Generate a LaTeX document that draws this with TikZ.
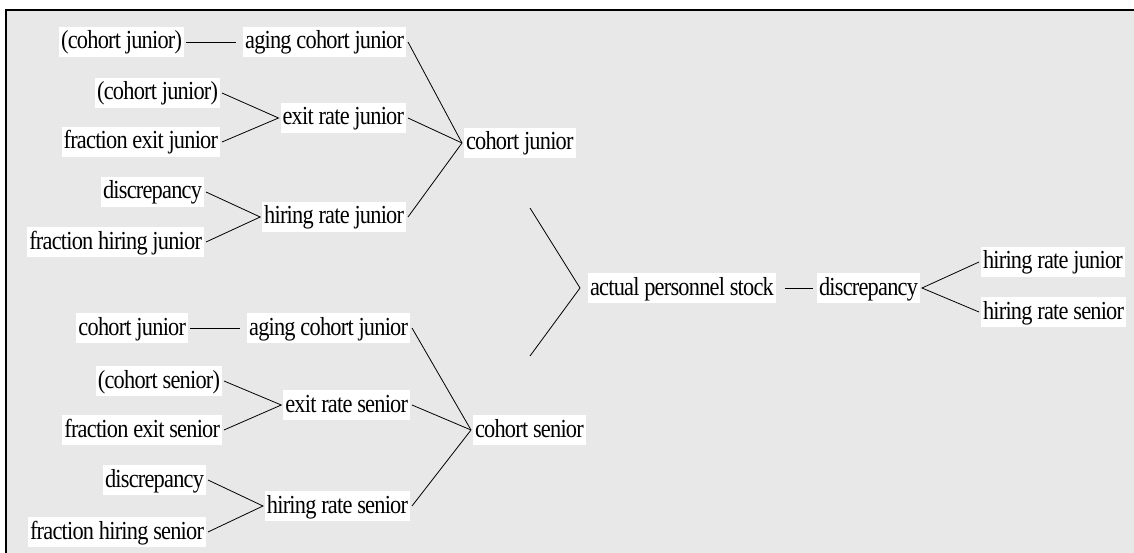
\documentclass[tikz,border=0pt]{standalone}
\usepackage{fontspec}
\setmainfont{Liberation Serif}[FakeStretch=0.86, LetterSpace=-3]
\usepackage{tikz}
\usetikzlibrary{positioning, calc}
\definecolor{panelgray}{RGB}{232,232,232}
\tikzset{
    frame/.style={line width=2pt, black},
    var/.style={fill=white, inner xsep=2pt, inner ysep=3pt, text height=19pt, text depth=5pt, outer sep=2pt},
    link/.style={line width=0.8pt},
    every node/.style={font=\fontsize{26}{30}\selectfont}
}

\begin{document}
\begin{tikzpicture}[x=1pt, y=-1pt]
    % Panel
    \useasboundingbox (0,0) rectangle (1134,553);
    \fill[panelgray] (5,9) rectangle (1134,553);
    \draw[frame] (6,553) -- (6,10) -- (1134,10);

    % Cohort junior tree
    \node[var, anchor=east] (cjA) at (186,42) {(cohort junior)};
    \node[var, anchor=east] (acjA) at (408,42) {aging cohort junior};
    \node[var, anchor=east] (cjB) at (222,93) {(cohort junior)};
    \node[var, anchor=east] (fej) at (222,142) {fraction exit junior};
    \node[var, anchor=east] (erj) at (408,118) {exit rate junior};
    \node[var, anchor=east] (dscA) at (206,192) {discrepancy};
    \node[var, anchor=east] (fhj) at (206,242) {fraction hiring junior};
    \node[var, anchor=east] (hrjA) at (408,217) {hiring rate junior};
    \node[var, anchor=west] (cjr) at (462,143) {cohort junior};

    \draw[link, shorten >=5pt] (cjA) -- (acjA);
    \draw[link] (cjB.east) -- (erj.west) -- (fej.east);
    \draw[link] (dscA.east) -- (hrjA.west) -- (fhj.east);
    \draw[link] (acjA.east) -- (cjr.west) -- (hrjA.east);
    \draw[link] (erj.east) -- (cjr.west);

    % Cohort senior tree
    \node[var, anchor=east] (cjC) at (190,328) {cohort junior};
    \node[var, anchor=east] (acjB) at (412,328) {aging cohort junior};
    \node[var, anchor=east] (csA) at (224,381) {(cohort senior)};
    \node[var, anchor=east] (fes) at (224,430) {fraction exit senior};
    \node[var, anchor=east] (ers) at (412,405) {exit rate senior};
    \node[var, anchor=east] (dscB) at (208,480) {discrepancy};
    \node[var, anchor=east] (fhs) at (208,532) {fraction hiring senior};
    \node[var, anchor=east] (hrsA) at (412,506) {hiring rate senior};
    \node[var, anchor=west] (csr) at (471,430) {cohort senior};

    \draw[link, shorten >=5pt] (cjC) -- (acjB);
    \draw[link] (csA.east) -- (ers.west) -- (fes.east);
    \draw[link] (dscB.east) -- (hrsA.west) -- (fhs.east);
    \draw[link] (acjB.east) -- (csr.west) -- (hrsA.east);
    \draw[link] (ers.east) -- (csr.west);

    % Stock and discrepancy
    \node[var, anchor=west] (aps) at (586,288) {actual personnel stock};
    \node[var, anchor=west] (dscC) at (815,288) {discrepancy};
    \node[var, anchor=west] (hrjB) at (979,262) {hiring rate junior};
    \node[var, anchor=west] (hrsB) at (979,312) {hiring rate senior};
    \coordinate (topend) at (530,208);
    \coordinate (botend) at (530,356);

    \draw[link] (topend) -- ([xshift=-6pt]aps.west) -- (botend);
    \draw[link, shorten <=7pt, shorten >=2pt] (aps) -- (dscC);
    \draw[link] (hrjB.west) -- (dscC.east) -- (hrsB.west);
\end{tikzpicture}
\end{document}
